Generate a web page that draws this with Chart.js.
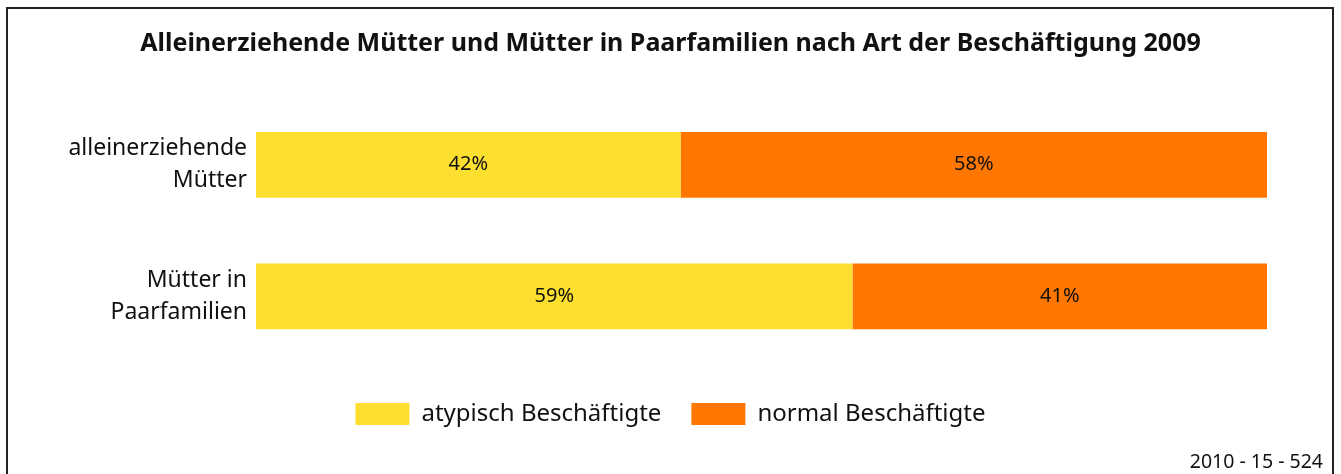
<!DOCTYPE html>
<html lang="de">
<head>
    <meta charset="UTF-8">
    <title>Alleinerziehende Mütter und Mütter in Paarfamilien</title>
    <style>
        body { margin: 0; background: #fff; }
        .wrap { position: relative; width: 1341px; height: 474px; }
        .frame {
            position: absolute;
            left: 6px; top: 7px;
            width: 1324px; height: 480px;
            border: 2px solid #222;
        }
        .code {
            position: absolute;
            right: 18px; bottom: 0px;
            font-family: "Noto Sans", sans-serif;
            font-size: 19.5px;
            color: #111;
        }
        canvas { position: absolute; left: 0; top: 0; }
    </style>
    <script src="https://cdn.jsdelivr.net/npm/chart.js"></script>
</head>
<body>
    <div class="wrap">
        <div class="frame"></div>
        <canvas id="chart" width="1341" height="474"></canvas>
        <div class="code">2010 - 15 - 524</div>
    </div>

    <script>
        const categories = [['alleinerziehende', 'Mütter'], ['Mütter in', 'Paarfamilien']];
        const atypisch = [42, 59];
        const normal = [58, 41];
        const seriesNames = ['atypisch Beschäftigte', 'normal Beschäftigte'];

        // draws the percent values in the middle of each bar piece
        const valueLabels = {
            id: 'valueLabels',
            afterDatasetsDraw(chart) {
                const ctx = chart.ctx;
                ctx.save();
                ctx.font = '20px "Noto Sans", sans-serif';
                ctx.fillStyle = '#111';
                ctx.textAlign = 'center';
                ctx.textBaseline = 'middle';
                chart.data.datasets.forEach((ds, i) => {
                    chart.getDatasetMeta(i).data.forEach((bar, j) => {
                        const x = (bar.x + bar.base) / 2;
                        ctx.fillText(ds.data[j] + '%', x, bar.y);
                    });
                });
                ctx.restore();
            }
        };

        new Chart(document.getElementById('chart'), {
            type: 'bar',
            data: {
                labels: categories,
                datasets: [
                    { label: seriesNames[0], data: atypisch, backgroundColor: '#fddf30' },
                    { label: seriesNames[1], data: normal, backgroundColor: '#ff7700' }
                ]
            },
            options: {
                indexAxis: 'y',
                responsive: false,
                animation: false,
                categoryPercentage: 1,
                barPercentage: 0.5,
                layout: { padding: { left: 20, right: 20, top: 0, bottom: 38 } },
                scales: {
                    x: {
                        stacked: true,
                        min: 0, max: 100,
                        grid: { display: false },
                        border: { display: false },
                        ticks: { display: false },
                        afterFit: scale => { scale.height = 10; }
                    },
                    y: {
                        stacked: true,
                        grid: { display: false },
                        border: { display: false },
                        ticks: {
                            padding: 1,
                            color: '#111',
                            font: { family: '"Noto Sans", sans-serif', size: 23, lineHeight: 1.4 }
                        },
                        afterFit: scale => { scale.width = 236; }
                    },
                    // empty right axis, only keeps the space on the right side
                    yRight: {
                        position: 'right',
                        grid: { display: false },
                        border: { display: false },
                        ticks: { display: false },
                        afterFit: scale => { scale.width = 54; }
                    }
                },
                plugins: {
                    title: {
                        display: true,
                        text: 'Alleinerziehende Mütter und Mütter in Paarfamilien nach Art der Beschäftigung 2009',
                        color: '#111',
                        font: { family: '"Noto Sans", sans-serif', size: 25, weight: 'bold', lineHeight: 1.2 },
                        padding: { top: 29, bottom: 40 }
                    },
                    legend: {
                        position: 'bottom',
                        labels: {
                            boxWidth: 54,
                            boxHeight: 22,
                            padding: 30,
                            color: '#111',
                            font: { family: '"Noto Sans", sans-serif', size: 24 }
                        }
                    },
                    tooltip: { enabled: false }
                }
            },
            plugins: [valueLabels]
        });
    </script>
</body>
</html>
